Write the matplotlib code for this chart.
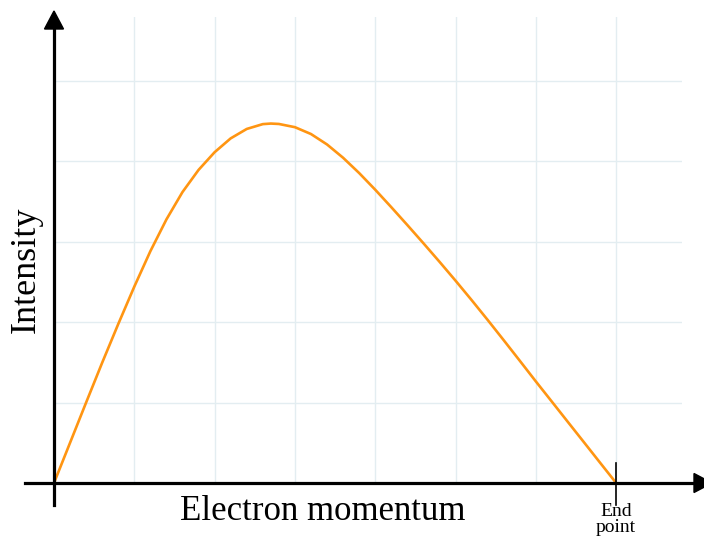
import matplotlib
matplotlib.use("Agg")
import matplotlib.pyplot as plt
from matplotlib.patches import Polygon

# Beta-decay electron momentum spectrum (intensity vs momentum, arbitrary units)
momentum = [0.0, 0.2, 0.4, 0.6, 0.8, 1.0, 1.2, 1.4, 1.6, 1.8, 2.0, 2.2, 2.4,
            2.6, 2.7, 2.8, 3.0, 3.2, 3.4, 3.6, 3.8, 4.0, 4.2, 4.4, 4.6, 4.8,
            5.0, 5.2, 5.4, 5.6, 5.8, 6.0, 6.2, 6.4, 6.6, 6.8, 7.0]
intensity = [0.0, 0.50, 1.00, 1.495, 1.975, 2.44, 2.88, 3.275, 3.615, 3.89,
             4.11, 4.282, 4.399, 4.459, 4.466, 4.461, 4.421, 4.336, 4.206,
             4.041, 3.851, 3.644, 3.427, 3.205, 2.979, 2.749, 2.514, 2.273,
             2.026, 1.774, 1.519, 1.262, 1.01, 0.757, 0.505, 0.252, 0.0]
end_point = 7.0

x_grid = [1, 2, 3, 4, 5, 6, 7]
y_grid = [1, 2, 3, 4, 5]

plt.rcParams['font.family'] = ['Liberation Serif', 'DejaVu Serif']

W, H = 704, 536
fig = plt.figure(figsize=(W / 100, H / 100), dpi=100)
ax = fig.add_axes([54 / W, (H - 483) / H, (682 - 54) / W, (483 - 17) / H])
ax.set_xlim(0, 7.82)
ax.set_ylim(0, 5.79)

for s in ax.spines.values():
    s.set_visible(False)
ax.set_xticks(x_grid)
ax.set_yticks(y_grid)
ax.tick_params(length=0, labelbottom=False, labelleft=False)
ax.grid(True, color='#e3edf1', linewidth=1.0)
ax.set_axisbelow(True)

# spectrum curve
ax.plot(momentum, intensity, color='#ff9512', linewidth=1.9, zorder=3,
        solid_joinstyle='round')

# axes with arrow heads
axw, axh = 682 - 54, 483 - 17
ax.plot([-29 / axw, (694 - 54) / axw], [0, 0], transform=ax.transAxes,
        color='black', lw=2.3, clip_on=False, zorder=4)
ax.add_patch(Polygon([[(694 - 54) / axw, 9.5 / axh], [(694 - 54) / axw, -9.5 / axh],
                      [(712 - 54) / axw, 0]], closed=True, transform=ax.transAxes,
                     facecolor='black', edgecolor='black', clip_on=False, zorder=4))
ax.plot([0, 0], [-22 / axh, (483 - 29) / axh], transform=ax.transAxes,
        color='black', lw=2.3, clip_on=False, zorder=4)
ax.add_patch(Polygon([[-9.5 / axw, (483 - 29) / axh], [9.5 / axw, (483 - 29) / axh],
                      [0, (483 - 11) / axh]], closed=True, transform=ax.transAxes,
                     facecolor='black', edgecolor='black', clip_on=False, zorder=4))

# end-point marker
ax.plot([end_point, end_point], [0.25, -0.27], color='black', lw=1.2,
        clip_on=False, zorder=4)
ax.text(end_point, -0.25, "End\npoint", ha='center', va='top', fontsize=14,
        linespacing=0.95)

fig.text(323 / W, (H - 520) / H, "Electron momentum", ha='center',
         va='baseline', fontsize=25)
fig.text(26 / W, 1 - 270 / H, "Intensity", ha='center', va='center',
         rotation=90, fontsize=26)

fig.savefig("out.png", dpi=100, facecolor='white')
